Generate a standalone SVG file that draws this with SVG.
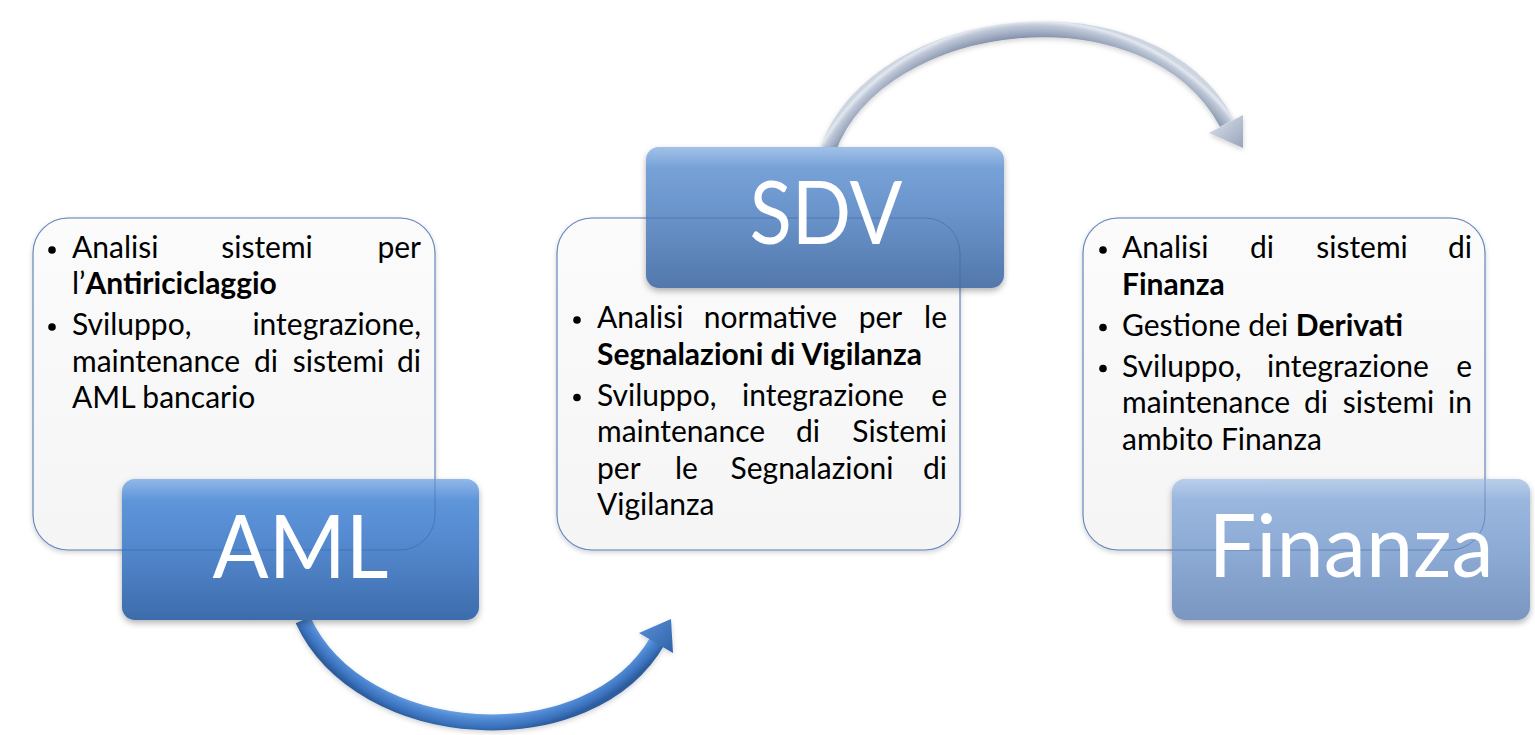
<svg xmlns="http://www.w3.org/2000/svg" width="1535" height="735" viewBox="0 0 1535 735">
<style>
.t{font-family:Lato,"Open Sans",sans-serif;font-size:30px;fill:#000}
.b{font-weight:bold}
.e{text-anchor:end}
.m{text-anchor:middle}
.lbl{font-family:Lato,"Open Sans",sans-serif;font-size:88px;fill:#fff;text-anchor:middle}
.tb{fill:url(#gBox);stroke:#98b0d8;stroke-width:1.2}
.ol{fill:none;stroke:#34589a;stroke-opacity:0.45;stroke-width:1}
.hl{fill:url(#gHi)}
</style>
<defs>
<linearGradient id="gAML" x1="0" y1="0" x2="0" y2="1"><stop offset="0" stop-color="#5491dc"/><stop offset="0.5" stop-color="#4a81ca"/><stop offset="1" stop-color="#3d6cab"/></linearGradient>
<linearGradient id="gSDV" x1="0" y1="0" x2="0" y2="1"><stop offset="0" stop-color="#6f9fdb"/><stop offset="0.5" stop-color="#618dc6"/><stop offset="1" stop-color="#5377ab"/></linearGradient>
<linearGradient id="gFIN" x1="0" y1="0" x2="0" y2="1"><stop offset="0" stop-color="#95b4df"/><stop offset="0.5" stop-color="#87a7d3"/><stop offset="1" stop-color="#7a96c1"/></linearGradient>
<linearGradient id="gBox" x1="0" y1="0" x2="0" y2="1"><stop offset="0" stop-color="#fbfbfb"/><stop offset="1" stop-color="#f5f5f5"/></linearGradient>
<linearGradient id="gHi" x1="0" y1="0" x2="0" y2="1"><stop offset="0" stop-color="#fff" stop-opacity="0.35"/><stop offset="0.15" stop-color="#fff" stop-opacity="0.08"/><stop offset="1" stop-color="#fff" stop-opacity="0"/></linearGradient>
<radialGradient id="gArrB" gradientUnits="userSpaceOnUse" cx="487.5" cy="504.7" r="240"><stop offset="0.87" stop-color="#6ca2e3"/><stop offset="0.895" stop-color="#4f88d3"/><stop offset="0.925" stop-color="#3b72bd"/><stop offset="0.945" stop-color="#2d5d9e"/></radialGradient>
<radialGradient id="gArrT" gradientUnits="userSpaceOnUse" cx="1036" cy="270" r="260"><stop offset="0.895" stop-color="#8593ad"/><stop offset="0.915" stop-color="#a0acc1"/><stop offset="0.94" stop-color="#bfc8d8"/><stop offset="0.955" stop-color="#e3e8f0"/><stop offset="0.965" stop-color="#cdd5e1"/></radialGradient>
<linearGradient id="gHeadB" x1="0" y1="0" x2="1" y2="1"><stop offset="0" stop-color="#5a92da"/><stop offset="1" stop-color="#2f62a6"/></linearGradient>
<linearGradient id="gHeadT" x1="0" y1="0" x2="1" y2="1"><stop offset="0" stop-color="#dfe5ee"/><stop offset="1" stop-color="#97a4bb"/></linearGradient>
<filter id="sh" x="-10%" y="-10%" width="120%" height="130%"><feDropShadow dx="0" dy="3" stdDeviation="3" flood-color="#000" flood-opacity="0.3"/></filter>
<filter id="shs" x="-10%" y="-10%" width="120%" height="130%"><feDropShadow dx="0" dy="2" stdDeviation="2.5" flood-color="#000" flood-opacity="0.18"/></filter>
</defs>
<rect width="1535" height="735" fill="#fff"/>

<g id="connectors">
  <g id="arrow-aml-sdv" filter="url(#shs)">
    <path d="M303 620 C360 745 590 760 658 640" fill="none" stroke="url(#gArrB)" stroke-width="16"/>
    <polygon points="671,619 639,633 673,653" fill="url(#gHeadB)"/>
  </g>
  <g id="arrow-sdv-fin" filter="url(#shs)">
    <path d="M828 149 C880 10 1150 -20 1227 123" fill="none" stroke="url(#gArrT)" stroke-width="16"/>
    <polygon points="1243,148 1209,133 1243,115" fill="url(#gHeadT)"/>
  </g>
</g>

<g id="node-aml">
  <rect class="tb" x="33" y="218" width="402" height="332" rx="35" filter="url(#shs)"/>
  <circle cx="52" cy="250" r="3.8"/>
  <text class="t" x="72" y="258">Analisi</text>
  <text class="t m" x="267" y="258">sistemi</text>
  <text class="t e" x="421" y="258">per</text>
  <text class="t" x="72" y="294">l’<tspan class="b">Antiriciclaggio</tspan></text>
  <circle cx="52" cy="327" r="3.8"/>
  <text class="t" x="72" y="335">Sviluppo,</text>
  <text class="t e" x="421" y="335">integrazione,</text>
  <text class="t" x="72" y="372">maintenance</text>
  <text class="t m" x="266" y="372">di</text>
  <text class="t m" x="338.5" y="372">sistemi</text>
  <text class="t e" x="421" y="372">di</text>
  <text class="t" x="72" y="408">AML bancario</text>
  <rect x="122" y="479" width="357" height="141" rx="13" fill="url(#gAML)" filter="url(#sh)"/>
  <rect class="hl" x="122" y="479" width="357" height="141" rx="13"/>
  <rect class="ol" x="33" y="218" width="402" height="332" rx="35"/>
  <text class="lbl" x="300.5" y="578" textLength="176" lengthAdjust="spacingAndGlyphs">AML</text>
</g>

<g id="node-sdv">
  <rect class="tb" x="557" y="218" width="403" height="332" rx="35" filter="url(#shs)"/>
  <rect x="646" y="147" width="358" height="141" rx="13" fill="url(#gSDV)" filter="url(#sh)"/>
  <rect class="hl" x="646" y="147" width="358" height="141" rx="13"/>
  <rect class="ol" x="557" y="218" width="403" height="332" rx="35"/>
  <text class="lbl" x="826" y="244" textLength="153" lengthAdjust="spacingAndGlyphs">SDV</text>
  <circle cx="577" cy="320" r="3.8"/>
  <text class="t" x="597" y="328">Analisi</text>
  <text class="t m" x="770.5" y="328">normative</text>
  <text class="t m" x="880.5" y="328">per</text>
  <text class="t e" x="947" y="328">le</text>
  <text class="t b" x="597" y="364.5">Segnalazioni di Vigilanza</text>
  <circle cx="577" cy="397.5" r="3.8"/>
  <text class="t" x="597" y="405.5">Sviluppo,</text>
  <text class="t m" x="823" y="405.5">integrazione</text>
  <text class="t e" x="947" y="405.5">e</text>
  <text class="t" x="597" y="442">maintenance</text>
  <text class="t m" x="808" y="442">di</text>
  <text class="t e" x="947" y="442">Sistemi</text>
  <text class="t" x="597" y="478.5">per</text>
  <text class="t m" x="686.5" y="478.5">le</text>
  <text class="t m" x="812" y="478.5">Segnalazioni</text>
  <text class="t e" x="947" y="478.5">di</text>
  <text class="t" x="597" y="515">Vigilanza</text>
</g>

<g id="node-finanza">
  <rect class="tb" x="1083" y="218" width="402" height="332" rx="35" filter="url(#shs)"/>
  <circle cx="1103" cy="250" r="3.8"/>
  <text class="t" x="1122" y="258">Analisi</text>
  <text class="t m" x="1262" y="258">di</text>
  <text class="t m" x="1362" y="258">sistemi</text>
  <text class="t e" x="1472" y="258">di</text>
  <text class="t b" x="1122" y="294.5">Finanza</text>
  <circle cx="1103" cy="327.5" r="3.8"/>
  <text class="t" x="1122" y="335.5">Gestione dei <tspan class="b">Derivati</tspan></text>
  <circle cx="1103" cy="368.5" r="3.8"/>
  <text class="t" x="1122" y="376.5">Sviluppo,</text>
  <text class="t m" x="1348" y="376.5">integrazione</text>
  <text class="t e" x="1472" y="376.5">e</text>
  <text class="t" x="1122" y="413">maintenance</text>
  <text class="t m" x="1316" y="413">di</text>
  <text class="t m" x="1388.5" y="413">sistemi</text>
  <text class="t e" x="1472" y="413">in</text>
  <text class="t" x="1122" y="449.5">ambito Finanza</text>
  <rect x="1172" y="479" width="358" height="141" rx="13" fill="url(#gFIN)" filter="url(#sh)"/>
  <rect class="hl" x="1172" y="479" width="358" height="141" rx="13"/>
  <rect class="ol" x="1083" y="218" width="402" height="332" rx="35"/>
  <text class="lbl" x="1351" y="577" textLength="285" lengthAdjust="spacingAndGlyphs">Finanza</text>
</g>
</svg>
